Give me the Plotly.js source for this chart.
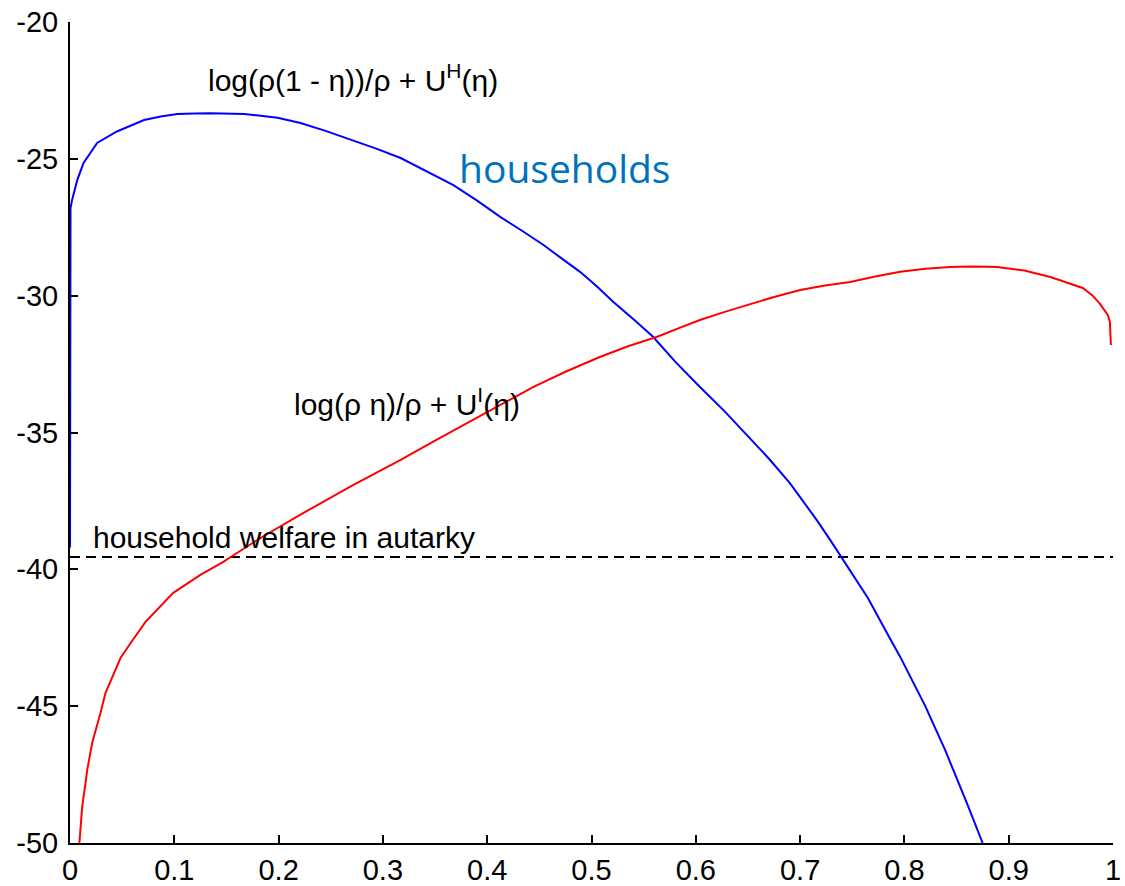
<!DOCTYPE html>
<html>
<head>
<meta charset="utf-8">
<script src="https://cdn.plot.ly/plotly-3.0.1.min.js"></script>
<style>html,body{margin:0;padding:0;background:#fff;}#chart{width:1125px;height:886px;}</style>
</head>
<body>
<div id="chart"></div>
<script>
// Households curve: log(rho(1-eta))/rho + U^H(eta)
const blueX = [0, 0.0005, 0.002, 0.007, 0.013, 0.026, 0.045, 0.071, 0.087, 0.103, 0.119, 0.135, 0.167, 0.199, 0.221, 0.245, 0.269, 0.293, 0.317, 0.342, 0.3676, 0.39, 0.4125, 0.433, 0.454, 0.47, 0.489, 0.505, 0.521, 0.54, 0.559, 0.58, 0.604, 0.627, 0.649, 0.67, 0.69, 0.703, 0.716, 0.728, 0.74, 0.752, 0.765, 0.78, 0.796, 0.82, 0.839, 0.86, 0.875];
const blueY = [-39.2, -26.8, -26.5, -25.77, -25.15, -24.42, -24.0, -23.58, -23.45, -23.36, -23.34, -23.33, -23.36, -23.5, -23.69, -23.98, -24.3, -24.62, -24.97, -25.45, -25.96, -26.52, -27.12, -27.62, -28.15, -28.6, -29.13, -29.66, -30.23, -30.85, -31.5, -32.4, -33.34, -34.2, -35.09, -35.95, -36.84, -37.5, -38.2, -38.88, -39.58, -40.3, -41.05, -42.1, -43.2, -45.0, -46.6, -48.55, -50.0];
// Intermediaries curve: log(rho eta)/rho + U^I(eta)
const redX = [0.009, 0.0117, 0.0149, 0.0165, 0.0213, 0.0244, 0.0292, 0.034, 0.0417, 0.0484, 0.058, 0.0724, 0.099, 0.125, 0.147, 0.154, 0.185, 0.221, 0.27, 0.317, 0.35, 0.381, 0.41, 0.444, 0.475, 0.508, 0.535, 0.563, 0.585, 0.604, 0.627, 0.649, 0.675, 0.7, 0.724, 0.748, 0.772, 0.796, 0.82, 0.844, 0.865, 0.889, 0.915, 0.94, 0.955, 0.971, 0.98, 0.987, 0.995, 0.997, 0.998];
const redY = [-50.0, -48.67, -47.8, -47.33, -46.34, -45.93, -45.25, -44.52, -43.8, -43.24, -42.7, -41.92, -40.86, -40.2, -39.73, -39.55, -38.8, -38.0, -36.95, -36.0, -35.3, -34.65, -34.03, -33.34, -32.78, -32.24, -31.85, -31.5, -31.17, -30.89, -30.6, -30.34, -30.05, -29.79, -29.63, -29.5, -29.3, -29.13, -29.02, -28.95, -28.93, -28.95, -29.08, -29.32, -29.5, -29.72, -29.98, -30.27, -30.7, -30.96, -31.8];
const autarkyX = [0, 1];
const autarkyLevel = -39.55;
const xTickVals = [0, 0.1, 0.2, 0.3, 0.4, 0.5, 0.6, 0.7, 0.8, 0.9, 1];
const xTickText = ["0", "0.1", "0.2", "0.3", "0.4", "0.5", "0.6", "0.7", "0.8", "0.9", "1"];
const yTickVals = [-50, -45, -40, -35, -30, -25, -20];
const yTickText = ["-50", "-45", "-40", "-35", "-30", "-25", "-20"];

const traces = [
  {x: autarkyX, y: autarkyX.map(() => autarkyLevel), mode: 'lines', line: {color: '#000', width: 2, dash: '10px,6px'}, hoverinfo: 'skip'},
  {x: blueX, y: blueY, mode: 'lines', line: {color: '#0000ff', width: 2}},
  {x: redX, y: redY, mode: 'lines', line: {color: '#ff0000', width: 2}}
];

const axisCommon = {
  showgrid: false, zeroline: false, showline: true, linecolor: '#000', linewidth: 2,
  ticks: 'inside', ticklen: 8, tickwidth: 2, tickcolor: '#000',
  tickfont: {family: 'Liberation Sans, Arial, sans-serif', size: 29, color: '#000'},
  mirror: false
};

const layout = {
  width: 1125, height: 886,
  margin: {l: 70, r: 12, t: 22, b: 43},
  paper_bgcolor: '#fff', plot_bgcolor: '#fff',
  showlegend: false,
  xaxis: Object.assign({}, axisCommon, {range: [0, 1], tickvals: xTickVals, ticktext: xTickText, ticklabelstandoff: 0}),
  yaxis: Object.assign({}, axisCommon, {range: [-50, -20], tickvals: yTickVals, ticktext: yTickText, ticklabelstandoff: 4}),
  annotations: [
    {x: 0.13, y: -22.05, xref: 'x', yref: 'y', xanchor: 'left', yanchor: 'middle', showarrow: false,
     text: 'log(ρ(1 - η))/ρ + U<sup>H</sup>(η)', font: {family: 'Liberation Sans, Arial, sans-serif', size: 30, color: '#000'}},
    {x: 0.371, y: -25.33, xref: 'x', yref: 'y', xanchor: 'left', yanchor: 'middle', showarrow: false,
     text: 'households', font: {family: 'Open Sans, Noto Sans, sans-serif', size: 39, color: '#0072BD'}},
    {x: 0.213, y: -33.9, xref: 'x', yref: 'y', xanchor: 'left', yanchor: 'middle', showarrow: false,
     text: 'log(ρ η)/ρ + U<sup>I</sup>(η)', font: {family: 'Liberation Sans, Arial, sans-serif', size: 30, color: '#000'}},
    {x: 0.0197, y: -38.85, xref: 'x', yref: 'y', xanchor: 'left', yanchor: 'middle', showarrow: false,
     text: 'household welfare in autarky', font: {family: 'Liberation Sans, Arial, sans-serif', size: 30, color: '#000'}}
  ]
};

Plotly.newPlot('chart', traces, layout, {displayModeBar: false, staticPlot: true});
</script>
</body>
</html>
